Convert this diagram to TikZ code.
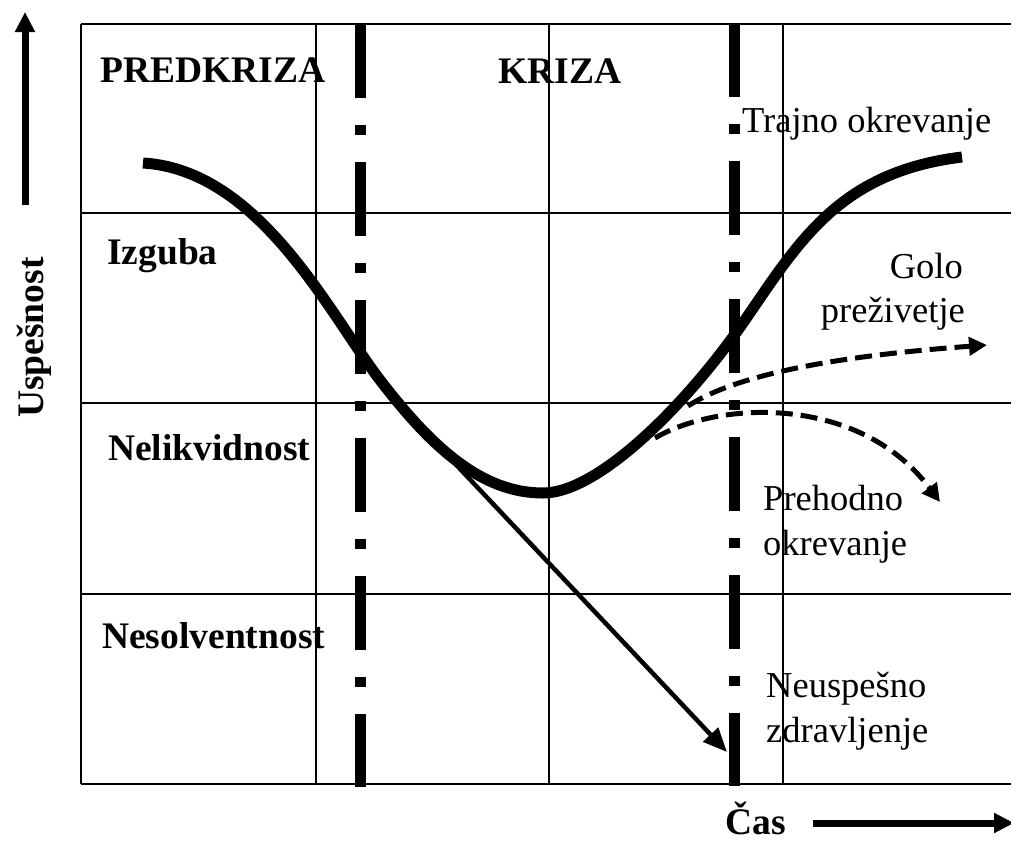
\documentclass[tikz,border=0pt]{standalone}
\usepackage{fontspec}
\setmainfont{Liberation Serif}
\usetikzlibrary{arrows.meta}
\begin{document}
\begin{tikzpicture}[x=1pt,y=-1pt,
  gridline/.style={line width=2.2pt},
  phase/.style={line width=11pt, dash pattern=on 74pt off 27pt on 10pt off 27pt},
  mycurve/.style={line width=11pt, line cap=butt},
  thinarrow/.style={line width=4.5pt, -{Triangle[length=24pt,width=20pt]}},
  dasharrow/.style={line width=5pt, dash pattern=on 17pt off 8pt, -{Triangle[length=18pt,width=18pt]}},
  axisarrow/.style={line width=7pt, -{Triangle[length=20pt,width=19pt]}},
  lbl/.style={inner sep=0pt, font=\fontsize{36.5}{43}\selectfont},
  blbl/.style={inner sep=0pt, font=\fontsize{37.5}{44}\selectfont\bfseries}]
\useasboundingbox (0,0) rectangle (1011,841);
% grid
\foreach \yy in {24,213,403,594,784} \draw[gridline] (81,\yy) -- (1011,\yy);
\foreach \xx in {81,316,549,783} \draw[gridline] (\xx,24) -- (\xx,784);
% phase separators
\draw[phase] (360,24) -- (360,787);
\draw[phase] (734,23) -- (734,786);
% main curve
\draw[mycurve] (143,163) .. controls (260,170) and (330,315) .. (380,380)
  .. controls (430,445) and (480,493) .. (543,493)
  .. controls (600,493) and (690,400) .. (745,320)
  .. controls (800,240) and (840,172) .. (962,157);
% arrows
\coordinate (fstart) at (380,384);
\coordinate (fend) at (727,752);
\draw[thinarrow] (fstart) -- (fend);
\coordinate (gstart) at (688,406);
\coordinate (gend) at (987,345);
\draw[dasharrow] (gstart) .. controls (740,372) and (850,355) .. (gend);
\coordinate (pstart) at (655,438);
\coordinate (pend) at (940,502);
\draw[dasharrow] (pstart) .. controls (720,400) and (860,395) .. (pend);
% axes
\coordinate (ybot) at (25,205);
\coordinate (ytop) at (25,12);
\draw[axisarrow] (ybot) -- (ytop);
\coordinate (xl) at (813,823);
\coordinate (xr) at (1014,823);
\draw[axisarrow] (xl) -- (xr);
% labels
\node[blbl, anchor=base west] (predkriza) at (100,82) {PREDKRIZA};
\node[blbl, anchor=base west] (kriza) at (498,83) {KRIZA};
\node[blbl, anchor=base west] (izguba) at (107,264) {Izguba};
\node[blbl, anchor=base west] (nelik) at (108,460) {Nelikvidnost};
\node[blbl, anchor=base west] (nesolv) at (102,648) {Nesolventnost};
\node[blbl, anchor=base west, rotate=90] (uspesnost) at (43,418) {Uspešnost};
\node[blbl, anchor=base west] (cas) at (725,834) {Čas};
\node[lbl, anchor=base west] (trajno) at (742,132) {Trajno okrevanje};
\node[lbl, anchor=base east] (golo) at (963,278) {Golo};
\node[lbl, anchor=base east] (prez) at (965,322) {preživetje};
\node[lbl, anchor=base west] (preh1) at (763,510) {Prehodno};
\node[lbl, anchor=base west] (preh2) at (763,555) {okrevanje};
\node[lbl, anchor=base west] (neusp1) at (766,697) {Neuspešno};
\node[lbl, anchor=base west] (neusp2) at (766,742) {zdravljenje};
\end{tikzpicture}
\end{document}
